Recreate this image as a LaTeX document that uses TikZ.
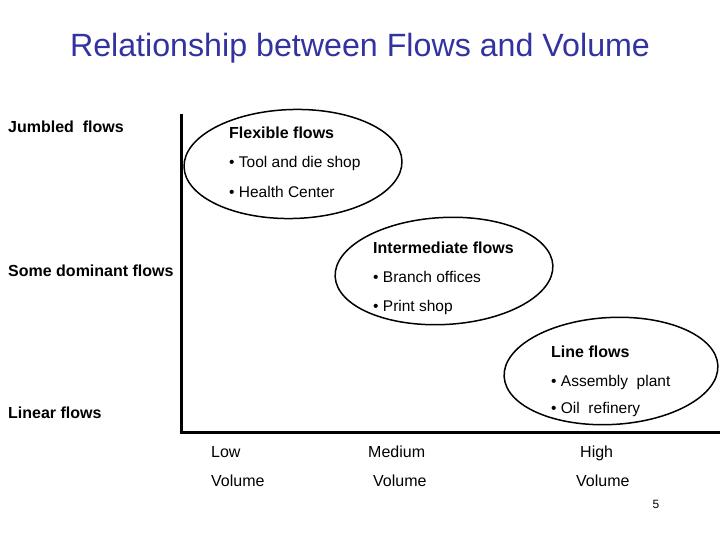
\documentclass[tikz,border=0pt]{standalone}
\usepackage{fontspec}
\setmainfont{Liberation Sans}
\usetikzlibrary{shapes.geometric}
\definecolor{titleblue}{RGB}{51,51,160}
\tikzset{
  lbl/.style={anchor=base west, inner sep=0pt, font=\fontsize{16}{19}\selectfont},
  head/.style={lbl, font=\fontsize{16}{19}\selectfont\bfseries},
  bul/.style={lbl, font=\fontsize{15.5}{19}\selectfont},
  oval/.style={draw, ellipse, line width=1.5pt, inner sep=0pt},
  axis/.style={line width=3pt}
}
\begin{document}
\begin{tikzpicture}[x=1pt,y=-1pt]
\useasboundingbox (0,0) rectangle (720,540);
% title
\node[anchor=base, inner sep=0pt, text=titleblue, font=\fontsize{32.2}{36}\selectfont] (title) at (360,57) {Relationship between Flows and Volume};
% axes
\coordinate (top) at (181,114);
\coordinate (corner) at (181,432);
\coordinate (right) at (720,432);
\draw[axis] (top) -- (corner);
\draw[axis] ([xshift=-1.5pt]corner) -- (right);
% ellipses
\node[oval, minimum width=218pt, minimum height=109pt, rotate=1.5] (e1) at (293,164) {};
\node[oval, minimum width=218pt, minimum height=107pt, rotate=3] (e2) at (444,271) {};
\node[oval, minimum width=214pt, minimum height=107pt, rotate=3] (e3) at (611,371) {};
% left labels
\node[head] (jumbled) at (8,133) {Jumbled\ \ flows};
\node[head] (dominant) at (8,276) {Some dominant flows};
\node[head] (linear) at (8,418) {Linear flows};
% ellipse 1
\node[head] (flex) at (229,139) {Flexible flows};
\node[bul] (tool) at (229,168) {\textbullet\ Tool and die shop};
\node[bul] (health) at (229,197) {\textbullet\ Health Center};
% ellipse 2
\node[head] (inter) at (373,253) {Intermediate flows};
\node[bul] (branch) at (373,282) {\textbullet\ Branch offices};
\node[bul] (print) at (373,311) {\textbullet\ Print shop};
% ellipse 3
\node[head] (lineflows) at (551,357) {Line flows};
\node[bul] (assembly) at (551,386) {\textbullet\ Assembly\ \ plant};
\node[bul] (oil) at (551,413) {\textbullet\ Oil\ \ refinery};
% bottom labels
\node[lbl] (low) at (211,457) {Low};
\node[lbl] (vol1) at (211,486) {Volume};
\node[lbl] (medium) at (368,457) {Medium};
\node[lbl] (vol2) at (373,486) {Volume};
\node[lbl] (high) at (580,457) {High};
\node[lbl] (vol3) at (576,486) {Volume};
% page number
\node[anchor=base, inner sep=0pt, font=\fontsize{12}{14}\selectfont] (page) at (656,508) {5};
\end{tikzpicture}
\end{document}
